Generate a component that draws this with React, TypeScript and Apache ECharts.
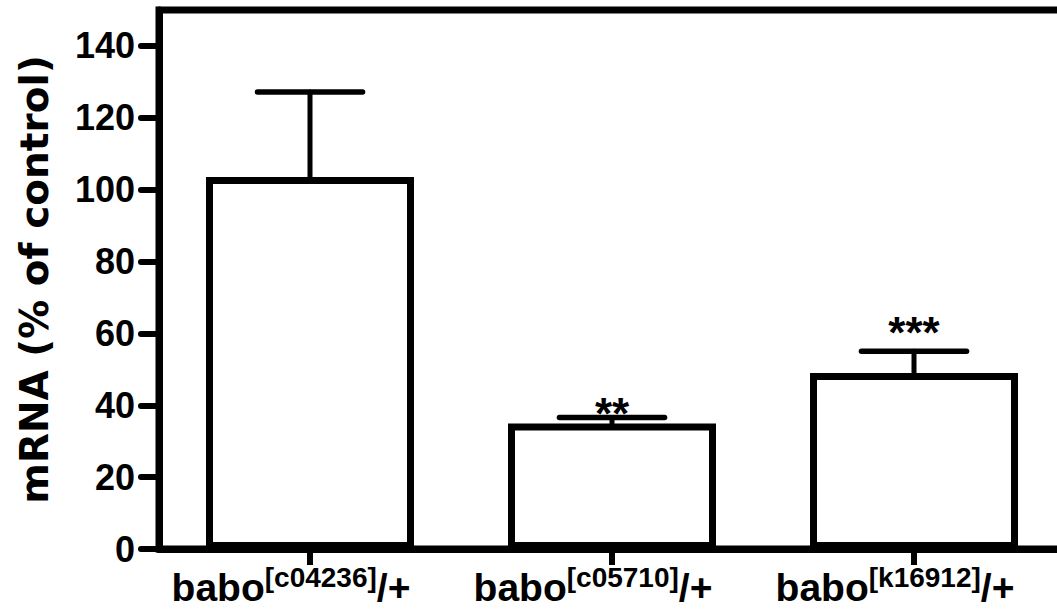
import React, { useEffect, useRef } from "react";
import * as echarts from "echarts";

const alleles = ["c04236", "c05710", "k16912"];
const means = [103.5, 34.9, 49];
const upperErrors = [23.7, 1.7, 6];
const stars = ["", "**", "***"];
const starAnchors = [0, 40.5, 63];
const yTicks = [0, 20, 40, 60, 80, 100, 120, 140];
const yMax = 150;

const FONT = "'Liberation Sans', Arial, Helvetica, sans-serif";

export default function App() {
  const ref = useRef<HTMLDivElement>(null);
  useEffect(() => {
    document.body.style.margin = "0";
    const chart = echarts.init(ref.current!, null, { renderer: "svg" });
    const errData = means.map((m, i) => [i, m, m + upperErrors[i], starAnchors[i]]);
    chart.setOption({
      animation: false,
      backgroundColor: "#fff",
      grid: {
        left: 159,
        top: 10,
        width: 906,
        height: 539,
        show: true,
        borderColor: "#000",
        borderWidth: 7,
        backgroundColor: "transparent",
        containLabel: false,
        outerBoundsMode: "none",
      },
      xAxis: {
        type: "category",
        data: alleles,
        axisLine: { show: true, lineStyle: { color: "#000", width: 7, cap: "round" } },
        axisTick: {
          show: true,
          alignWithLabel: true,
          length: 16,
          lineStyle: { color: "#000", width: 6 },
        },
        axisLabel: {
          margin: 14,
          padding: [0, 38, 0, 0],
          formatter: (v: string) => `{b|babo}{s|[${v}]}{b|/+}`,
          rich: {
            b: {
              fontSize: 39,
              fontWeight: "bold",
              fontFamily: FONT,
              color: "#000",
              lineHeight: 48,
            },
            s: {
              fontSize: 28,
              fontWeight: "bold",
              fontFamily: FONT,
              color: "#000",
              lineHeight: 28,
              verticalAlign: "top",
            },
          },
        },
        splitLine: { show: false },
      },
      yAxis: {
        type: "value",
        min: 0,
        max: yMax,
        interval: 20,
        name: "mRNA (% of control)",
        nameLocation: "middle",
        nameGap: 105,
        nameTextStyle: {
          fontFamily: "'DejaVu Sans', sans-serif",
          fontWeight: "bold",
          fontSize: 39,
          color: "#000",
        },
        axisLine: { show: true, lineStyle: { color: "#000", width: 7 } },
        axisTick: {
          show: true,
          length: 18,
          customValues: yTicks,
          lineStyle: { color: "#000", width: 6, cap: "round" },
        },
        axisLabel: {
          customValues: yTicks,
          margin: 24,
          fontSize: 36,
          fontWeight: "bold",
          fontFamily: FONT,
          color: "#000",
        },
        splitLine: { show: false },
      },
      series: [
        {
          type: "bar",
          data: means,
          barWidth: 208,
          z: 2,
          itemStyle: { color: "#fff", borderColor: "#000", borderWidth: 7 },
        },
        {
          type: "custom",
          data: errData,
          z: 3,
          encode: { x: 0, y: [1, 2] },
          renderItem: (params: any, api: any) => {
            const i = api.value(0);
            const lo = api.coord([i, api.value(1)]);
            const hi = api.coord([i, api.value(2)]);
            const half = api.size([1, 0])[0] * 0.174;
            const children: any[] = [
              {
                type: "line",
                shape: { x1: lo[0], y1: lo[1] + 3, x2: hi[0], y2: hi[1] },
                style: { stroke: "#000", lineWidth: 5, lineCap: "round" },
              },
              {
                type: "line",
                shape: { x1: hi[0] - half, y1: hi[1], x2: hi[0] + half, y2: hi[1] },
                style: { stroke: "#000", lineWidth: 5.5, lineCap: "round" },
              },
            ];
            const s = stars[params.dataIndex];
            if (s) {
              const p = api.coord([i, api.value(3)]);
              children.push({
                type: "text",
                x: p[0],
                y: p[1] + 10,
                style: {
                  text: s,
                  fontSize: 44,
                  fontWeight: "bold",
                  fontFamily: FONT,
                  fill: "#000",
                  align: "center",
                  verticalAlign: "middle",
                },
              });
            }
            return { type: "group", children };
          },
        },
      ],
    });
    return () => chart.dispose();
  }, []);
  return <div ref={ref} style={{ width: 1057, height: 614 }} />;
}
